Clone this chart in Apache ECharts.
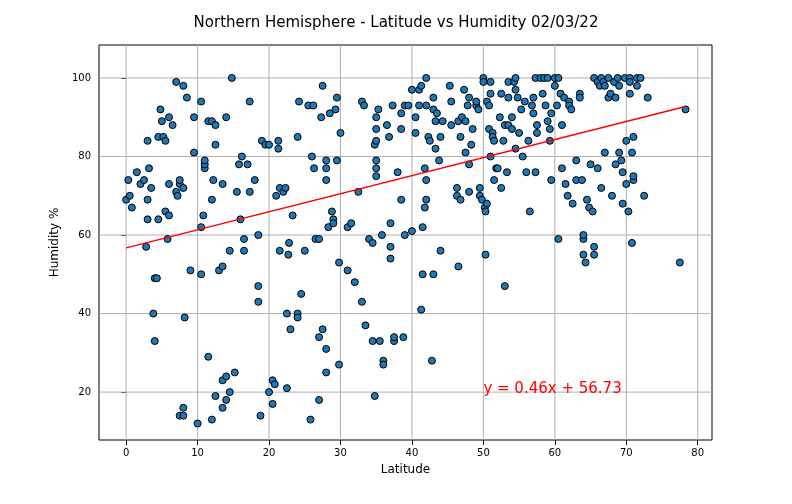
<!DOCTYPE html>
<html>
<head>
<meta charset="utf-8">
<script src="https://cdn.jsdelivr.net/npm/echarts@6/dist/echarts.min.js"></script>
<style>html,body{margin:0;padding:0;background:#fff}#chart{width:792px;height:504px}</style>
</head>
<body>
<div id="chart"></div>
<script>
// 纬度 / 湿度 点位
var points = [
  [0,69],[0.3,74],[0.5,70],[0.8,67],[1.5,76],[2,73],[2.5,74],[2.8,57],[3,64],[3,69],[3.2,77],[3,84],[3.5,72],[3.8,40],[4,33],[4,49],[4.3,49],[4.5,64],[4.5,85],[4.8,92],
  [5,89],[5.2,85],[5.5,84],[5.5,66],[5.8,59],[6,65],[6,73],[6,90],[6.5,88],[7,71],[7,99],[7.2,70],[7.5,73],[7.5,74],[7.5,14],[8,14],[8,16],[8,72],[8,98],[8.2,39],
  [8.5,95],[9,51],[9.5,90],[9.5,81],[10,12],[10.5,50],[10.5,62],[10.8,65],[10.5,94],[11,77],[11,78],[11,79],[11.5,29],[11.5,89],[12,89],[12,13],[12,69],[12.2,74],[12.5,83],[12.5,88],
  [12.5,19],[13,51],[13.5,52],[13.5,16],[13.5,23],[13.5,73],[14,24],[14,18],[14,90],[14.5,20],[14.5,56],[14.8,100],[15.2,25],[15.5,71],[15.8,78],[16,64],[16.2,80],[16.5,59],[16.5,56],[17,78],
  [17.3,71],[17.3,94],[18,74],[18.5,60],[18.5,47],[18.5,43],[18.8,14],[19,84],[19.5,83],[20,20],[20,83],[20.5,17],[20.5,23],[20.8,22],[21,70],[21.3,82],[21.3,84],[21.5,56],[21.5,72],[22,71],
  [22.3,72],[22.5,21],[22.5,40],[22.7,55],[22.8,58],[23,36],[23.3,65],[24,85],[24,40],[24,39],[24.2,94],[24.5,45],[25,56],[25.5,93],[25.8,13],[26,80],[26.2,93],[26.3,77],[26.5,59],[27,59],
  [27,34],[27,18],[27.3,90],[27.5,98],[27.5,36],[28,31],[28,25],[28,74],[28,77],[28,79],[28.3,62],[28.5,91],[28.8,66],[29,64],[29,63],[29.3,92],[29.5,79],[29.5,95],[29.8,27],[29.8,53],
  [30,86],[31,62],[31,51],[31.5,63],[32,48],[32.5,71],[33,94],[33,43],[33.3,93],[33.5,37],[34,59],[34.5,33],[34.5,58],[34.8,19],[34.8,83],[35,84],[35,90],[35,87],[35,79],[35,77],
  [35,75],[35.3,92],[35.5,33],[35.8,60],[36,28],[36,27],[36.5,88],[36.8,85],[37,54],[37,57],[37,63],[37.3,93],[37.5,33],[37.5,34],[38,76],[38.5,69],[38.5,87],[38.5,91],[38.8,34],[39,60],
  [39,93],[39.5,93],[40,61],[40,97],[40.5,86],[40.5,90],[41,93],[41,97],[41.3,98],[41.3,41],[41.5,50],[41.5,62],[41.8,77],[41.8,67],[42,69],[42,74],[42,100],[42,93],[42.3,85],[42.5,84],
  [42.8,28],[43,50],[43,92],[43,95],[43.3,89],[43.3,82],[43.5,91],[43.8,79],[44,56],[44,85],[44.3,89],[45.3,98],[45.5,94],[45.5,88],[46.3,70],[46.3,72],[46.5,52],[46.5,89],[46.8,85],[46.8,69],
  [47,90],[47.3,97],[47.5,81],[47.5,89],[47.8,93],[48,71],[48,95],[48,78],[48.3,83],[48.5,87],[49,93],[49,94],[49.3,92],[49.5,72],[49.5,70],[49.8,69],[50,100],[50,99],[50.2,67],[50.3,66],
  [50.3,55],[50.5,68],[50.5,94],[50.8,93],[50.8,87],[51,96],[51,99],[51,80],[51.3,86],[51.3,85],[51.5,84],[51.5,74],[51.8,77],[52,77],[52.3,90],[52.5,96],[52.5,72],[52.8,84],[53,88],[53,47],
  [53.3,76],[53.5,95],[53.5,99],[53.5,88],[54,90],[54,87],[54.3,99],[54.5,97],[54.5,100],[54.5,82],[54.8,95],[55,86],[55.3,92],[55.5,80],[55.8,94],[56,76],[56.3,84],[56.5,66],[56.8,93],[57,95],
  [57,91],[57.3,100],[57.3,76],[57.5,88],[57.5,86],[58,100],[58.3,96],[58.5,100],[58.7,93],[59,100],[59,89],[59.3,87],[59.3,84],[59.5,74],[59.5,91],[60,100],[60,98],[60.3,93],[60.5,59],[60.5,100],
  [60.8,96],[61,88],[61,77],[61.3,95],[61.5,73],[61.8,70],[62,94],[62,93],[62.3,92],[62.5,68],[63,79],[63,74],[63.5,96],[63.5,95],[63.8,74],[64,55],[64,59],[64,60],[64.3,53],[64.5,69],
  [64.8,67],[65,78],[65.3,66],[65.5,100],[65.5,57],[65.5,55],[66,77],[66,99],[66.3,98],[66.5,100],[66.5,72],[66.8,99],[67,81],[67,98],[67.5,95],[67.5,100],[67.8,96],[68,70],[68.3,99],[68.5,78],
  [68.5,95],[68.8,100],[69,98],[69,81],[69.3,79],[69.5,76],[69.5,68],[69.8,100],[70,84],[70,73],[70.3,66],[70.5,100],[70.5,96],[70.5,99],[70.8,81],[70.8,58],[71,74],[71,75],[71,85],[71.5,100],
  [71.5,98],[72,100],[72.5,70],[73,95],[77.5,53],[78.3,92]
];
var slope = 0.46;
var intercept = 56.73;
var xTicks = [0, 10, 20, 30, 40, 50, 60, 70, 80];
var yTicks = [20, 40, 60, 80, 100];

var myChart = echarts.init(document.getElementById('chart'));
var xMin = -3.8, xMax = 82, yMin = 7.8, yMax = 108.4;
var xs = points.map(function (p) { return p[0]; });
var xLo = Math.min.apply(null, xs), xHi = Math.max.apply(null, xs);
var fit = [[xLo, slope * xLo + intercept], [xHi, slope * xHi + intercept]];

// 网格线：每个刻度一条细灰线
var gridSeries = [];
xTicks.forEach(function (v) {
  gridSeries.push({ type: 'line', data: [[v, yMin], [v, yMax]], showSymbol: false, silent: true, z: 1,
    lineStyle: { color: '#b0b0b0', width: 1 } });
});
yTicks.forEach(function (v) {
  gridSeries.push({ type: 'line', data: [[xMin, v], [xMax, v]], showSymbol: false, silent: true, z: 1,
    lineStyle: { color: '#b0b0b0', width: 1 } });
});

var option = {
  animation: false,
  title: {
    text: 'Northern Hemisphere - Latitude vs Humidity 02/03/22',
    left: 'center', top: 11,
    textStyle: { fontFamily: 'DejaVu Sans', fontSize: 15, fontWeight: 'normal', color: '#000' }
  },
  grid: { left: 99, right: 80, top: 45, bottom: 64, show: true, borderColor: '#000', borderWidth: 1 },
  xAxis: {
    type: 'value', min: xMin, max: xMax,
    name: 'Latitude', nameLocation: 'middle', nameGap: 24,
    nameTextStyle: { fontFamily: 'DejaVu Sans', fontSize: 12, color: '#000' },
    axisLine: { show: false },
    axisTick: { show: true, customValues: xTicks, lineStyle: { color: '#000' } },
    axisLabel: { customValues: xTicks, fontFamily: 'DejaVu Sans', fontSize: 10, color: '#000' },
    splitLine: { show: false }
  },
  yAxis: {
    type: 'value', min: yMin, max: yMax,
    name: 'Humidity %', nameLocation: 'middle', nameGap: 35,
    nameTextStyle: { fontFamily: 'DejaVu Sans', fontSize: 12, color: '#000' },
    axisLine: { show: false },
    axisTick: { show: true, customValues: yTicks, lineStyle: { color: '#000' } },
    axisLabel: { customValues: yTicks, fontFamily: 'DejaVu Sans', fontSize: 10, color: '#000' },
    splitLine: { show: false }
  },
  series: gridSeries.concat([
    {
      type: 'scatter', data: points, symbolSize: 7, z: 3,
      itemStyle: { color: '#1f77b4', borderColor: '#000', borderWidth: 1, opacity: 1 }
    },
    {
      type: 'line', data: fit, showSymbol: false, z: 4,
      lineStyle: { color: 'red', width: 1.5 },
      markPoint: {
        symbol: 'rect', symbolSize: 0,
        data: [{ coord: [50, 20], value: 'y = 0.46x + 56.73' }],
        label: { show: true, position: 'right', distance: 0, offset: [0, -3], formatter: '{c}', color: 'red', fontFamily: 'DejaVu Sans', fontSize: 15 }
      }
    }
  ])
};
myChart.setOption(option);
</script>
</body>
</html>
